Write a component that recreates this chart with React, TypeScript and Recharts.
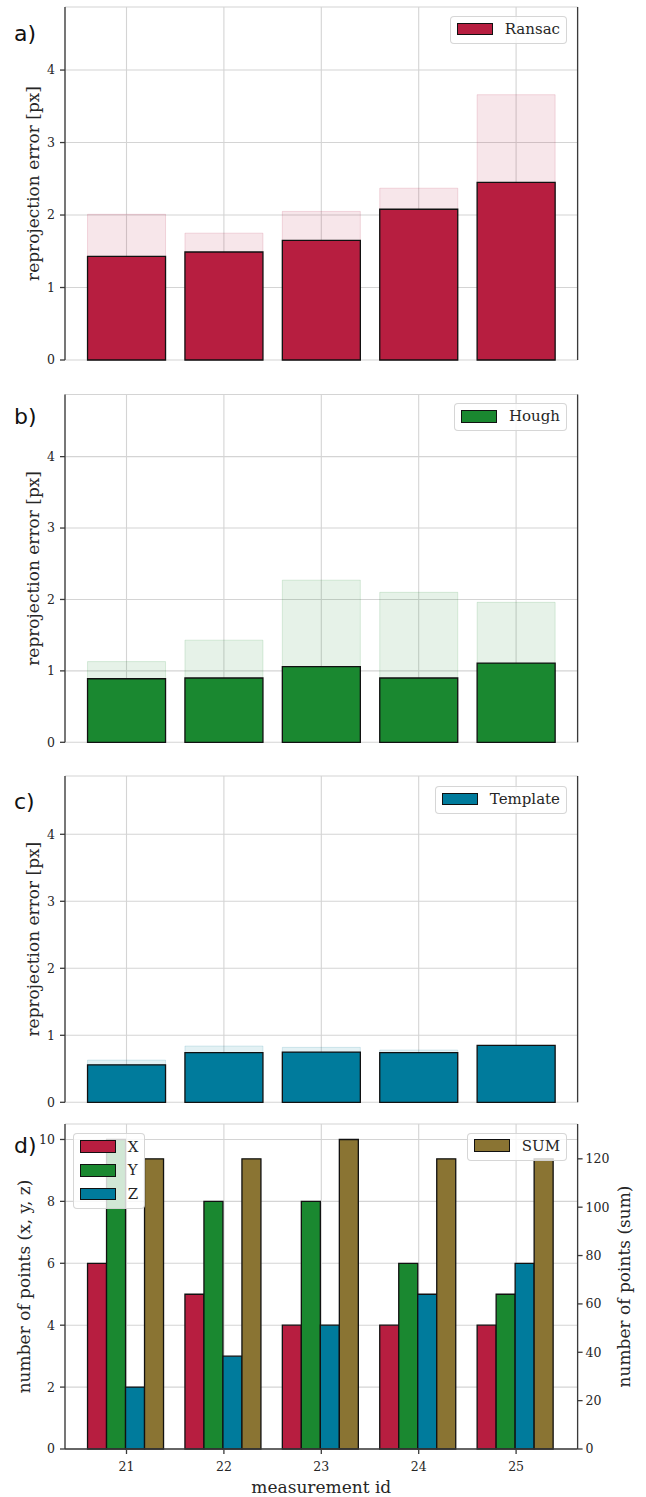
import React from "react";
import { Bar, BarChart, CartesianGrid, Legend, XAxis, YAxis } from "recharts";

// measurement ids on the x axis
const ids = ["21", "22", "23", "24", "25"];

// reprojection error, mean and upper (light background bar)
const ransacMean = [1.43, 1.49, 1.65, 2.08, 2.45];
const ransacUpper = [2.01, 1.75, 2.05, 2.37, 3.66];
const houghMean = [0.89, 0.9, 1.06, 0.9, 1.11];
const houghUpper = [1.13, 1.43, 2.27, 2.1, 1.96];
const templateMean = [0.56, 0.74, 0.75, 0.74, 0.85];
const templateUpper = [0.63, 0.84, 0.82, 0.78, 0.83];

// number of points
const pointsX = [6, 5, 4, 4, 4];
const pointsY = [10, 8, 8, 6, 5];
const pointsZ = [2, 3, 4, 5, 6];
const pointsSum = [120, 120, 128, 120, 120];

const errorTicks = [0, 1, 2, 3, 4];
const countTicks = [0, 2, 4, 6, 8, 10];
const sumTicks = [0, 20, 40, 60, 80, 100, 120];

const colors = {
  ransac: "#b71e40",
  hough: "#1a8830",
  template: "#007b9c",
  sum: "#8a7433",
};

const W = 646;
const LEFT_W = 65;
const RIGHT_W = 68.4;
const PAD = 12.8;
const SERIF = "'DejaVu Serif', serif";
const AXIS = "#3a3a3a";
const GRID = "#d4d4d4";

const tickStyle = { fontSize: 12.5, fill: "#262626", fontFamily: SERIF };
const axisLineStyle = { stroke: AXIS, strokeWidth: 1.3 };
const blank = () => "";

const yLabel = (text: string, cx: number) => (props: any) => {
  const vb = props.viewBox;
  const cy = vb.y + vb.height / 2;
  return (
    <text
      x={cx}
      y={cy}
      transform={`rotate(-90 ${cx} ${cy})`}
      textAnchor="middle"
      dominantBaseline="central"
      style={{ fontFamily: SERIF, fontSize: 17, fill: "#262626" }}
    >
      {text}
    </text>
  );
};

const xLabel = (props: any) => {
  const vb = props.viewBox;
  return (
    <text
      x={vb.x + vb.width / 2}
      y={vb.y + vb.height - 4}
      textAnchor="middle"
      style={{ fontFamily: SERIF, fontSize: 17, fill: "#262626" }}
    >
      measurement id
    </text>
  );
};

interface LegendItem {
  name: string;
  color: string;
}

function LegendBox({ items, style }: { items: LegendItem[]; style: React.CSSProperties }) {
  return (
    <div
      style={{
        position: "absolute",
        boxSizing: "border-box",
        background: "rgba(255,255,255,0.8)",
        border: "1px solid rgba(204,204,204,0.8)",
        borderRadius: 4,
        padding: "5px 6px 7px 6px",
        whiteSpace: "nowrap",
        ...style,
      }}
    >
      {items.map((it, i) => (
        <div
          key={it.name}
          style={{ display: "flex", alignItems: "center", height: 14, marginTop: i ? 9.7 : 0 }}
        >
          <div
            style={{
              width: 35.5,
              height: 12.7,
              boxSizing: "border-box",
              background: it.color,
              border: "1.3px solid #111",
              marginRight: 12,
            }}
          />
          <span style={{ fontFamily: SERIF, fontSize: 15, color: "#262626", lineHeight: "14px" }}>
            {it.name}
          </span>
        </div>
      ))}
    </div>
  );
}

function PanelLetter({ text, top }: { text: string; top: number }) {
  return (
    <div
      style={{
        position: "absolute",
        left: 14,
        top,
        fontFamily: "'DejaVu Sans', sans-serif",
        fontSize: 22,
        lineHeight: "22px",
        color: "#111",
      }}
    >
      {text}
    </div>
  );
}

interface ErrorPanelProps {
  name: string;
  color: string;
  mean: number[];
  upper: number[];
  top: number;
  marginTop: number;
  height: number;
  legendTop: number;
}

function ErrorPanel({ name, color, mean, upper, top, marginTop, height, legendTop }: ErrorPanelProps) {
  const data = ids.map((id, i) => ({ id, mean: mean[i], upper: upper[i] }));
  return (
    <div style={{ position: "absolute", left: 0, top, width: W, height }}>
      <BarChart
        width={W}
        height={height}
        data={data}
        margin={{ top: marginTop, right: 0, bottom: 0, left: 0 }}
        barCategoryGap="10%"
        barGap={0}
      >
        <CartesianGrid xAxisId="main" yAxisId="left" stroke={GRID} strokeWidth={1.1} />
        <XAxis
          xAxisId="main"
          dataKey="id"
          height={20}
          padding={{ left: PAD, right: PAD }}
          tickSize={5}
          tickFormatter={blank}
          axisLine={axisLineStyle}
          tickLine={axisLineStyle}
        />
        <XAxis xAxisId="bg" dataKey="id" hide padding={{ left: PAD, right: PAD }} />
        <XAxis
          xAxisId="top"
          dataKey="id"
          orientation="top"
          height={0}
          padding={{ left: PAD, right: PAD }}
          tickSize={5}
          tickFormatter={blank}
          axisLine={axisLineStyle}
          tickLine={axisLineStyle}
        />
        <YAxis
          yAxisId="left"
          width={LEFT_W}
          domain={[0, 4.87]}
          ticks={errorTicks}
          tickSize={5}
          tickMargin={5}
          tick={tickStyle}
          axisLine={axisLineStyle}
          tickLine={axisLineStyle}
          label={yLabel("reprojection error [px]", 33)}
        />
        <YAxis
          yAxisId="right"
          orientation="right"
          width={RIGHT_W}
          domain={[0, 4.87]}
          ticks={errorTicks}
          tickSize={5}
          tickFormatter={blank}
          axisLine={axisLineStyle}
          tickLine={axisLineStyle}
        />
        <Bar
          xAxisId="bg"
          yAxisId="left"
          dataKey="upper"
          fill={color}
          fillOpacity={0.11}
          stroke={color}
          strokeOpacity={0.15}
          strokeWidth={1}
          isAnimationActive={false}
        />
        <Bar
          xAxisId="main"
          yAxisId="left"
          dataKey="mean"
          fill={color}
          stroke="#111"
          strokeWidth={1.3}
          isAnimationActive={false}
        />
        <Legend
          layout="vertical"
          align="center"
          verticalAlign="middle"
          wrapperStyle={{ top: 0, left: 0, width: 0, height: 0 }}
          content={() => (
            <LegendBox items={[{ name, color }]} style={{ top: legendTop, right: -567 }} />
          )}
        />
      </BarChart>
    </div>
  );
}

function CountPanel() {
  const data = ids.map((id, i) => ({
    id,
    x: pointsX[i],
    y: pointsY[i],
    z: pointsZ[i],
    sum: pointsSum[i],
  }));
  const height = 387;
  return (
    <div style={{ position: "absolute", left: 0, top: 1110, width: W, height }}>
      <BarChart
        width={W}
        height={height}
        data={data}
        margin={{ top: 14, right: 0, bottom: 0, left: 0 }}
        barCategoryGap="10%"
        barGap={0}
      >
        <CartesianGrid xAxisId="main" yAxisId="left" stroke={GRID} strokeWidth={1.1} />
        <XAxis
          xAxisId="main"
          dataKey="id"
          height={48}
          padding={{ left: PAD, right: PAD }}
          tickSize={5}
          tickMargin={8}
          tick={tickStyle}
          axisLine={axisLineStyle}
          tickLine={axisLineStyle}
          label={xLabel}
        />
        <XAxis
          xAxisId="top"
          dataKey="id"
          orientation="top"
          height={0}
          padding={{ left: PAD, right: PAD }}
          tickSize={5}
          tickFormatter={blank}
          axisLine={axisLineStyle}
          tickLine={axisLineStyle}
        />
        <YAxis
          yAxisId="left"
          width={LEFT_W}
          domain={[0, 10.5]}
          ticks={countTicks}
          tickSize={5}
          tickMargin={5}
          tick={tickStyle}
          axisLine={axisLineStyle}
          tickLine={axisLineStyle}
          label={yLabel("number of points (x, y, z)", 24)}
        />
        <YAxis
          yAxisId="right"
          orientation="right"
          width={RIGHT_W}
          domain={[0, 134.4]}
          ticks={sumTicks}
          tickSize={5}
          tickMargin={3}
          tick={tickStyle}
          axisLine={axisLineStyle}
          tickLine={axisLineStyle}
          label={yLabel("number of points (sum)", 624)}
        />
        <Bar xAxisId="main" yAxisId="left" dataKey="x" fill={colors.ransac} stroke="#111" strokeWidth={1.3} isAnimationActive={false} />
        <Bar xAxisId="main" yAxisId="left" dataKey="y" fill={colors.hough} stroke="#111" strokeWidth={1.3} isAnimationActive={false} />
        <Bar xAxisId="main" yAxisId="left" dataKey="z" fill={colors.template} stroke="#111" strokeWidth={1.3} isAnimationActive={false} />
        <Bar xAxisId="main" yAxisId="right" dataKey="sum" fill={colors.sum} stroke="#111" strokeWidth={1.3} isAnimationActive={false} />
        <Legend
          layout="vertical"
          align="center"
          verticalAlign="middle"
          wrapperStyle={{ top: 0, left: 0, width: 0, height: 0 }}
          content={() => (
            <>
              <LegendBox
                items={[
                  { name: "X", color: colors.ransac },
                  { name: "Y", color: colors.hough },
                  { name: "Z", color: colors.template },
                ]}
                style={{ top: 22.7, left: 73.3, paddingTop: 6 }}
              />
              <LegendBox items={[{ name: "SUM", color: colors.sum }]} style={{ top: 22.7, right: -567 }} />
            </>
          )}
        />
      </BarChart>
    </div>
  );
}

export default function App() {
  return (
    <div style={{ position: "absolute", left: 0, top: 0, width: W, height: 1497, background: "#fff" }}>
      <ErrorPanel name="Ransac" color={colors.ransac} mean={ransacMean} upper={ransacUpper} top={0} marginTop={7} height={380} legendTop={16} />
      <ErrorPanel name="Hough" color={colors.hough} mean={houghMean} upper={houghUpper} top={380} marginTop={14.5} height={382.3} legendTop={23.3} />
      <ErrorPanel name="Template" color={colors.template} mean={templateMean} upper={templateUpper} top={760} marginTop={16} height={362.3} legendTop={26} />
      <CountPanel />
      <PanelLetter text="a)" top={23} />
      <PanelLetter text="b)" top={406} />
      <PanelLetter text="c)" top={791} />
      <PanelLetter text="d)" top={1135} />
    </div>
  );
}
